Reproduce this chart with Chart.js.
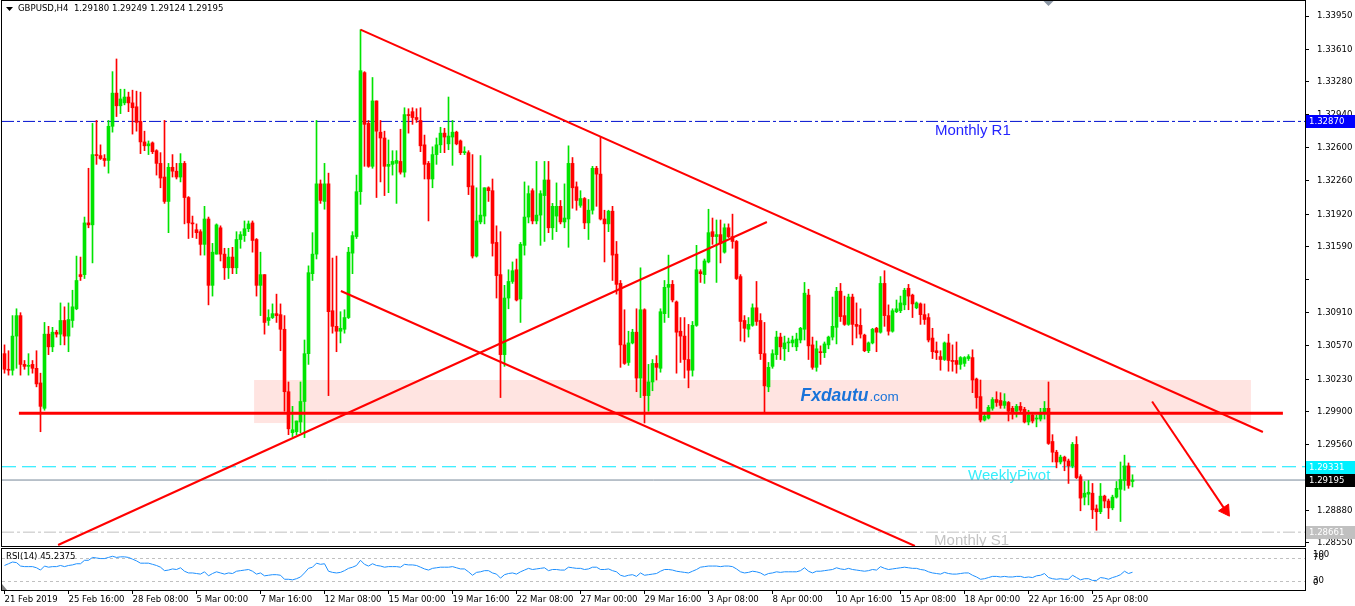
<!DOCTYPE html>
<html>
<head>
<meta charset="utf-8">
<title>GBPUSD H4</title>
<script src="https://cdn.jsdelivr.net/npm/chart.js@4.4.1/dist/chart.umd.min.js"></script>
<style>
  html, body { margin: 0; padding: 0; background: #fff; }
  #wrap { position: relative; width: 1355px; height: 606px; overflow: hidden; background: #fff; }
  #priceChart { position: absolute; left: 0; top: 0; }
  #rsiChart { position: absolute; left: 0; top: 547px; }
</style>
</head>
<body>
<div id="wrap">
  <canvas id="priceChart" width="1355" height="548"></canvas>
  <canvas id="rsiChart" width="1355" height="59"></canvas>
</div>
<script>
// ---- GBPUSD H4 candles, one entry per bar (21 Feb 2019 00:00 onwards) ----
const opens = [
  1.3049,1.3033,1.3032,1.3067,1.3088,1.3038,1.3036,1.3038,1.3034,1.3019,
  1.2993,1.3069,1.3056,1.3071,1.3069,1.3083,1.3067,1.3083,1.3095,1.3130,
  1.3130,1.3183,1.3181,1.3253,1.3252,1.3249,1.3247,1.3282,1.3316,1.3303,
  1.3306,1.3312,1.3306,1.3302,1.3287,1.3266,1.3262,1.3265,1.3257,1.3244,
  1.3230,1.3205,1.3240,1.3236,1.3230,1.3244,1.3209,1.3183,1.3176,1.3174,
  1.3161,1.3187,1.3119,1.3151,1.3178,1.3151,1.3137,1.3148,1.3137,1.3166,
  1.3170,1.3177,1.3183,1.3166,1.3119,1.3130,1.3083,1.3086,1.3090,1.3089,
  1.3074,1.3010,1.2968,1.2969,1.2979,1.3000,1.3049,1.3131,1.3151,1.3223,
  1.3205,1.3223,1.3093,1.3077,1.3072,1.3074,1.3086,1.3152,1.3169,1.3215,
  1.3337,1.3285,1.3241,1.3308,1.3276,1.3270,1.3241,1.3243,1.3244,1.3246,
  1.3235,1.3294,1.3297,1.3291,1.3288,1.3263,1.3244,1.3228,1.3253,1.3263,
  1.3275,1.3264,1.3271,1.3276,1.3267,1.3255,1.3255,1.3221,1.3149,1.3184,
  1.3190,1.3219,1.3216,1.3163,1.3130,1.3048,1.3106,1.3123,1.3135,1.3105,
  1.3160,1.3189,1.3216,1.3185,1.3191,1.3211,1.3227,1.3178,1.3190,1.3200,
  1.3184,1.3187,1.3244,1.3220,1.3201,1.3208,1.3183,1.3196,1.3239,1.3233,
  1.3187,1.3182,1.3195,1.3151,1.3121,1.3058,1.3040,1.3060,1.3071,1.3024,
  1.3094,1.3006,1.3020,1.3039,1.3034,1.3090,1.3117,1.3120,1.3102,1.3072,
  1.3067,1.3043,1.3032,1.3078,1.3133,1.3130,1.3143,1.3174,1.3169,1.3171,
  1.3153,1.3178,1.3169,1.3164,1.3128,1.3083,1.3074,1.3078,1.3096,1.3083,
  1.3049,1.3015,1.3036,1.3048,1.3066,1.3054,1.3060,1.3060,1.3056,1.3063,
  1.3074,1.3109,1.3058,1.3035,1.3051,1.3050,1.3058,1.3066,1.3076,1.3113,
  1.3088,1.3079,1.3107,1.3079,1.3078,1.3068,1.3052,1.3060,1.3075,1.3071,
  1.3121,1.3088,1.3072,1.3092,1.3093,1.3099,1.3116,1.3109,1.3096,1.3100,
  1.3089,1.3086,1.3065,1.3052,1.3046,1.3043,1.3060,1.3042,1.3042,1.3038,
  1.3039,1.3044,1.3045,1.3023,1.3005,1.2981,1.2983,1.2993,1.3002,1.3001,
  1.2996,1.2999,1.2993,1.2990,1.2995,1.2992,1.2979,1.2986,1.2982,1.2982,
  1.2988,1.2993,1.2959,1.2948,1.2938,1.2943,1.2939,1.2934,1.2956,1.2923,
  1.2902,1.2905,1.2906,1.2890,1.2887,1.2903,1.2898,1.2891,1.2902,1.2910,
  1.2919,1.2934,1.29180
];
const highs = [
  1.3058,1.3052,1.3088,1.3095,1.3091,1.3042,1.3049,1.3042,1.3052,1.3029,
  1.3081,1.3077,1.3076,1.3073,1.3101,1.3097,1.3101,1.3114,1.3149,1.3148,
  1.3189,1.3239,1.3285,1.3288,1.3263,1.3253,1.3288,1.3338,1.3351,1.3320,
  1.3320,1.3317,1.3319,1.3318,1.3317,1.3277,1.3267,1.3266,1.3258,1.3255,
  1.3288,1.3244,1.3253,1.3244,1.3254,1.3246,1.3210,1.3190,1.3182,1.3176,
  1.3200,1.3189,1.3162,1.3182,1.3180,1.3157,1.3157,1.3158,1.3174,1.3174,
  1.3185,1.3185,1.3185,1.3167,1.3153,1.3130,1.3094,1.3100,1.3110,1.3100,
  1.3088,1.3020,1.2995,1.2980,1.3020,1.3063,1.3139,1.3173,1.3288,1.3227,
  1.3244,1.3234,1.3147,1.3149,1.3092,1.3094,1.3158,1.3174,1.3232,1.3381,
  1.3338,1.3288,1.3332,1.3308,1.3288,1.3277,1.3268,1.3257,1.3257,1.3279,
  1.3301,1.3300,1.3301,1.3300,1.3301,1.3273,1.3246,1.3261,1.3270,1.3281,
  1.3280,1.3312,1.3288,1.3277,1.3268,1.3261,1.3257,1.3253,1.3219,1.3252,
  1.3219,1.3220,1.3228,1.3180,1.3174,1.3119,1.3135,1.3143,1.3146,1.3163,
  1.3225,1.3221,1.3218,1.3246,1.3216,1.3246,1.3246,1.3203,1.3224,1.3206,
  1.3223,1.3262,1.3250,1.3225,1.3216,1.3209,1.3207,1.3241,1.3241,1.3271,
  1.3196,1.3196,1.3200,1.3164,1.3124,1.3094,1.3072,1.3074,1.3095,1.3137,
  1.3095,1.3038,1.3043,1.3047,1.3095,1.3124,1.3150,1.3124,1.3103,1.3086,
  1.3086,1.3079,1.3082,1.3160,1.3135,1.3146,1.3197,1.3188,1.3186,1.3186,
  1.3182,1.3182,1.3192,1.3165,1.3130,1.3088,1.3086,1.3100,1.3123,1.3090,
  1.3081,1.3040,1.3053,1.3072,1.3070,1.3067,1.3065,1.3067,1.3070,1.3076,
  1.3122,1.3115,1.3066,1.3062,1.3057,1.3061,1.3067,1.3107,1.3117,1.3121,
  1.3108,1.3110,1.3110,1.3101,1.3095,1.3069,1.3061,1.3075,1.3076,1.3128,
  1.3134,1.3099,1.3095,1.3104,1.3108,1.3116,1.3120,1.3110,1.3102,1.3101,
  1.3100,1.3090,1.3075,1.3061,1.3052,1.3061,1.3069,1.3058,1.3061,1.3046,
  1.3046,1.3048,1.3053,1.3024,1.3022,1.2988,1.2996,1.3004,1.3010,1.3009,
  1.3008,1.3000,1.2995,1.2997,1.2999,1.2994,1.2991,1.2987,1.2986,1.2993,
  1.3000,1.3020,1.2966,1.2950,1.2945,1.2944,1.2941,1.2958,1.2964,1.2925,
  1.2918,1.2919,1.2916,1.2894,1.2916,1.2904,1.2900,1.2904,1.2918,1.2938,
  1.2945,1.2937,1.29249
];
const lows = [
  1.3029,1.3027,1.3027,1.3034,1.3027,1.3033,1.3027,1.3029,1.3015,1.2969,
  1.2991,1.3048,1.3051,1.3066,1.3058,1.3058,1.3051,1.3076,1.3094,1.3124,
  1.3126,1.3178,1.3142,1.3243,1.3248,1.3241,1.3234,1.3276,1.3292,1.3295,
  1.3304,1.3297,1.3274,1.3277,1.3254,1.3257,1.3253,1.3254,1.3232,1.3219,
  1.3203,1.3173,1.3230,1.3228,1.3225,1.3182,1.3167,1.3168,1.3167,1.3150,
  1.3150,1.3099,1.3108,1.3151,1.3144,1.3125,1.3126,1.3131,1.3131,1.3157,
  1.3164,1.3174,1.3153,1.3108,1.3088,1.3069,1.3078,1.3085,1.3081,1.3052,
  1.2990,1.2966,1.2964,1.2966,1.2968,1.2963,1.3038,1.3124,1.3146,1.3203,
  1.3197,1.3006,1.3070,1.3051,1.3060,1.3070,1.3085,1.3131,1.3167,1.3202,
  1.3241,1.3240,1.3239,1.3209,1.3225,1.3211,1.3214,1.3232,1.3203,1.3233,
  1.3230,1.3275,1.3284,1.3286,1.3256,1.3228,1.3185,1.3219,1.3243,1.3255,
  1.3255,1.3258,1.3242,1.3263,1.3253,1.3253,1.3212,1.3147,1.3148,1.3182,
  1.3182,1.3205,1.3149,1.3106,1.3004,1.3036,1.3095,1.3121,1.3103,1.3081,
  1.3150,1.3183,1.3182,1.3182,1.3160,1.3164,1.3173,1.3166,1.3174,1.3182,
  1.3178,1.3158,1.3198,1.3196,1.3199,1.3177,1.3166,1.3192,1.3200,1.3186,
  1.3143,1.3174,1.3124,1.3110,1.3035,1.3038,1.3037,1.3059,1.3010,1.3004,
  1.2978,1.2990,1.3011,1.3022,1.3030,1.3081,1.3086,1.3102,1.3029,1.3040,
  1.3024,1.3014,1.3026,1.3077,1.3122,1.3121,1.3142,1.3161,1.3122,1.3142,
  1.3152,1.3168,1.3157,1.3125,1.3062,1.3061,1.3066,1.3077,1.3078,1.3043,
  1.2988,1.3010,1.3034,1.3043,1.3043,1.3042,1.3051,1.3056,1.3052,1.3060,
  1.3063,1.3043,1.3033,1.3031,1.3038,1.3045,1.3054,1.3063,1.3059,1.3082,
  1.3078,1.3078,1.3058,1.3065,1.3065,1.3051,1.3050,1.3059,1.3051,1.3070,
  1.3077,1.3068,1.3071,1.3091,1.3091,1.3094,1.3094,1.3086,1.3095,1.3079,
  1.3079,1.3061,1.3044,1.3043,1.3032,1.3042,1.3031,1.3031,1.3029,1.3033,
  1.3036,1.3042,1.3009,1.2993,1.2979,1.2980,1.2982,1.2991,1.2995,1.2993,
  1.2993,1.2980,1.2982,1.2984,1.2988,1.2978,1.2976,1.2978,1.2974,1.2980,
  1.2982,1.2956,1.2938,1.2932,1.2936,1.2929,1.2916,1.2932,1.2921,1.2888,
  1.2894,1.2894,1.2880,1.2868,1.2885,1.2891,1.2880,1.2889,1.2901,1.2877,
  1.2909,1.2911,1.29124
];
const closes = [
  1.3033,1.3032,1.3067,1.3088,1.3038,1.3036,1.3037,1.3034,1.3018,1.2995,
  1.3069,1.3056,1.3071,1.3069,1.3083,1.3067,1.3084,1.3097,1.3124,1.3128,
  1.3183,1.3181,1.3253,1.3252,1.3249,1.3247,1.3282,1.3316,1.3303,1.3310,
  1.3312,1.3306,1.3301,1.3286,1.3266,1.3262,1.3264,1.3256,1.3244,1.3229,
  1.3205,1.3240,1.3236,1.3230,1.3244,1.3209,1.3183,1.3182,1.3173,1.3161,
  1.3187,1.3119,1.3153,1.3181,1.3151,1.3137,1.3148,1.3137,1.3166,1.3171,
  1.3177,1.3182,1.3165,1.3119,1.3130,1.3081,1.3086,1.3090,1.3088,1.3074,
  1.3010,1.2972,1.2971,1.2980,1.3000,1.3049,1.3132,1.3151,1.3223,1.3206,
  1.3223,1.3092,1.3077,1.3072,1.3075,1.3086,1.3153,1.3170,1.3215,1.3339,
  1.3284,1.3241,1.3308,1.3277,1.3270,1.3241,1.3243,1.3246,1.3247,1.3235,
  1.3294,1.3293,1.3291,1.3289,1.3262,1.3243,1.3228,1.3253,1.3263,1.3275,
  1.3271,1.3272,1.3276,1.3264,1.3255,1.3256,1.3220,1.3149,1.3185,1.3191,
  1.3219,1.3216,1.3162,1.3129,1.3048,1.3106,1.3123,1.3134,1.3104,1.3161,
  1.3189,1.3213,1.3185,1.3191,1.3213,1.3227,1.3178,1.3200,1.3200,1.3184,
  1.3188,1.3244,1.3219,1.3206,1.3208,1.3183,1.3196,1.3239,1.3233,1.3187,
  1.3182,1.3195,1.3150,1.3120,1.3058,1.3039,1.3060,1.3071,1.3024,1.3094,
  1.3006,1.3020,1.3039,1.3035,1.3092,1.3117,1.3120,1.3104,1.3071,1.3067,
  1.3043,1.3032,1.3078,1.3135,1.3131,1.3144,1.3173,1.3169,1.3171,1.3162,
  1.3178,1.3169,1.3164,1.3126,1.3082,1.3075,1.3079,1.3096,1.3082,1.3049,
  1.3016,1.3035,1.3049,1.3066,1.3056,1.3060,1.3061,1.3063,1.3064,1.3075,
  1.3111,1.3057,1.3035,1.3054,1.3050,1.3059,1.3066,1.3077,1.3113,1.3087,
  1.3079,1.3107,1.3079,1.3077,1.3069,1.3052,1.3060,1.3074,1.3071,1.3121,
  1.3088,1.3072,1.3093,1.3095,1.3101,1.3114,1.3108,1.3100,1.3101,1.3089,
  1.3084,1.3063,1.3051,1.3050,1.3043,1.3060,1.3042,1.3041,1.3038,1.3045,
  1.3045,1.3046,1.3022,1.3004,1.2981,1.2985,1.2994,1.3002,1.2999,1.2996,
  1.3000,1.2990,1.2988,1.2995,1.2991,1.2979,1.2986,1.2980,1.2983,1.2988,
  1.2993,1.2957,1.2948,1.2938,1.2943,1.2939,1.2934,1.2956,1.2922,1.2901,
  1.2906,1.2907,1.2889,1.2887,1.2903,1.2898,1.2891,1.2902,1.2911,1.2920,
  1.2934,1.2914,1.29195
];
// RSI(14) per bar
const rsi = [
  57,60,63,62,56,55,55,55,53,49,
  56,54,55,55,57,55,57,58,60,60,
  66,66,71,70,69,69,71,73,71,72,
  72,71,68,65,61,61,61,59,57,54,
  48,49,51,50,53,47,44,44,43,42,
  46,39,43,46,44,42,44,43,47,48,
  49,50,47,42,44,39,40,41,41,40,
  33,33,32,34,37,44,52,54,61,59,
  60,47,45,44,45,48,52,54,57,66,
  59,56,60,57,56,54,55,55,55,54,
  59,58,58,57,54,51,49,52,53,54,
  54,54,55,53,51,51,46,40,45,46,
  48,48,44,42,35,41,43,44,42,46,
  49,52,50,51,52,53,48,50,50,49,
  49,54,53,52,52,50,51,54,54,50,
  50,51,48,46,40,38,40,41,38,44,
  40,41,42,43,47,50,50,49,47,46,
  45,44,47,50,54,55,56,56,56,55,
  56,56,55,51,46,44,45,47,46,44,
  40,43,44,46,45,46,46,46,46,48,
  53,47,44,47,47,48,49,50,53,51,
  50,52,50,49,48,47,48,50,49,55,
  52,50,51,52,53,54,53,52,52,50,
  49,46,44,43,42,45,43,42,42,43,
  44,44,40,37,33,34,36,38,38,37,
  38,37,37,38,38,36,37,36,39,40,
  43,36,34,33,34,33,33,40,36,32,
  34,34,31,31,36,35,33,36,38,41,
  47,43,45.2375
];
const rsiLevels = [30, 70];

// time axis labels (bar index where each label sits)
const timeTickIdx = [0, 16, 32, 48, 64, 80, 96, 112, 128, 144, 160, 176, 192, 208, 224, 240, 256, 272];
const timeLabels = ['21 Feb 2019', '25 Feb 16:00', '28 Feb 08:00', '5 Mar 00:00', '7 Mar 16:00',
  '12 Mar 08:00', '15 Mar 00:00', '19 Mar 16:00', '22 Mar 08:00', '27 Mar 00:00', '29 Mar 16:00',
  '3 Apr 08:00', '8 Apr 00:00', '10 Apr 16:00', '15 Apr 08:00', '18 Apr 00:00', '22 Apr 16:00', '25 Apr 08:00'];

// price axis
const priceTicks = [1.3395, 1.3361, 1.3328, 1.3294, 1.3260, 1.3226, 1.3192, 1.3159, 1.3125,
  1.3091, 1.3057, 1.3023, 1.2990, 1.2956, 1.2922, 1.2888, 1.2855];
const priceTickLabels = ['1.33950', '1.33610', '1.33280', '1.32940', '1.32600', '1.32260', '1.31920',
  '1.31590', '', '1.30910', '1.30570', '1.30230', '1.29900', '1.29560', '1.29220', '1.28880', '1.28550'];

// pivot levels
const monthlyR1 = 1.32870;
const weeklyPivot = 1.29331;
const bidPrice = 1.29195;
const monthlyS1 = 1.28661;

// drawn objects: [bar index, price]
const supportLine = [[3.6, 1.2988], [319.6, 1.2988]];
const upperTrend = [[89, 1.3381], [314.6, 1.29687]];
const risingTrend = [[13.4, 1.28529], [190.6, 1.31839]];
const lowerTrend = [[84.1, 1.31132], [227.6, 1.28519]];
const arrowPath = [[286.9, 1.3000], [305.25, 1.28884]];
const zoneBars = [62.4, 311.6];
const zonePrices = [1.29779, 1.30220];

// ---- styling / layout ----
const UP = '#00e400';
const DOWN = '#ff0000';
const FONT = "'DejaVu Sans Condensed', 'DejaVu Sans', sans-serif";
const ARIAL = "'Liberation Sans', Arial, sans-serif";
const X_MIN = -0.625, X_MAX = 325.125;
const Y_MIN = 1.28519, Y_MAX = 1.34104;
const RSI_MIN = 14.35, RSI_MAX = 85.65;

const idx = closes.map((_, i) => i);
const candleColors = idx.map(i => closes[i] >= opens[i] ? UP : DOWN);

function toPoints(pairs) {
  return pairs.map(p => ({ x: p[0], y: p[1] }));
}
function levelLine(level) {
  return [{ x: X_MIN, y: level }, { x: X_MAX, y: level }];
}
function lineSet(data, color, width, dash, order) {
  return {
    type: 'line', data: data, borderColor: color, borderWidth: width,
    borderDash: dash || [], pointRadius: 0, fill: false, tension: 0, order: order
  };
}
// keep the plot area exactly where the layout padding puts it
function noPadding(s) {
  s.paddingTop = 0;
  s.paddingBottom = 0;
  s.paddingLeft = 0;
  s.paddingRight = 0;
}

const captions = [
  { text: 'Monthly R1', price: monthlyR1, at: 232.6, color: '#2424ff' },
  { text: 'WeeklyPivot', price: weeklyPivot, at: 240.9, color: '#36eefc' },
  { text: 'Monthly S1', price: monthlyS1, at: 232.4, color: '#c3c3c3' }
];
const axisBoxes = [
  { price: monthlyR1, bg: '#0000ff', fg: '#ffffff' },
  { price: weeklyPivot, bg: '#00f0ff', fg: '#ffffff' },
  { price: bidPrice, bg: '#000000', fg: '#ffffff' },
  { price: monthlyS1, bg: '#c0c0c0', fg: '#ffffff' }
];

const priceOverlay = {
  id: 'priceOverlay',
  beforeDatasetsDraw(chart) {
    const { ctx, chartArea: a, scales: { x, y } } = chart;
    ctx.save();
    ctx.beginPath();
    ctx.rect(a.left, a.top, a.right - a.left, a.bottom - a.top);
    ctx.clip();

    // rectangle zone
    const zx0 = x.getPixelForValue(zoneBars[0]);
    const zx1 = x.getPixelForValue(zoneBars[1]);
    const zy0 = y.getPixelForValue(zonePrices[1]);
    const zy1 = y.getPixelForValue(zonePrices[0]);
    ctx.fillStyle = '#ffe4e1';
    ctx.fillRect(zx0, zy0, zx1 - zx0, zy1 - zy0);

    // watermark
    const wx = x.getPixelForValue(199);
    const wy = y.getPixelForValue(1.3001);
    ctx.textAlign = 'left';
    ctx.textBaseline = 'alphabetic';
    ctx.fillStyle = '#1a73d9';
    ctx.font = 'italic bold 17.5px ' + ARIAL;
    ctx.fillText('Fxdautu', wx, wy);
    const w = ctx.measureText('Fxdautu').width;
    ctx.font = '13.5px ' + ARIAL;
    ctx.fillText('.com', wx + w + 1, wy);

    // level captions
    ctx.font = '15px ' + ARIAL;
    ctx.textBaseline = 'top';
    captions.forEach(c => {
      ctx.fillStyle = c.color;
      ctx.fillText(c.text, x.getPixelForValue(c.at), y.getPixelForValue(c.price) + 1.5);
    });
    ctx.restore();
  },
  afterDraw(chart) {
    const { ctx, chartArea: a, scales: { x, y } } = chart;
    ctx.save();
    ctx.strokeStyle = '#000';
    ctx.lineWidth = 1;
    ctx.strokeRect(a.left - 0.5, a.top - 0.5, a.right - a.left + 1, a.bottom - a.top + 1);

    // price boxes on the axis
    ctx.font = '9.5px ' + FONT;
    ctx.textBaseline = 'middle';
    ctx.textAlign = 'left';
    axisBoxes.forEach(b => {
      const py = Math.round(y.getPixelForValue(b.price));
      ctx.fillStyle = b.bg;
      ctx.fillRect(a.right + 1, py - 6, chart.width - a.right - 1, 13);
      ctx.fillStyle = b.fg;
      ctx.fillText(b.price.toFixed(5), a.right + 4, py + 0.5);
    });

    // title
    const last = closes.length - 1;
    ctx.fillStyle = '#000';
    ctx.beginPath();
    ctx.moveTo(a.left + 4, a.top + 6);
    ctx.lineTo(a.left + 11, a.top + 6);
    ctx.lineTo(a.left + 7.5, a.top + 10);
    ctx.closePath();
    ctx.fill();
    ctx.fillText('GBPUSD,H4  ' + [opens[last], highs[last], lows[last], closes[last]]
      .map(v => v.toFixed(5)).join(' '), a.left + 16, a.top + 8);

    // chart shift marker
    const sx = x.getPixelForValue(261);
    ctx.fillStyle = '#8a96a4';
    ctx.beginPath();
    ctx.moveTo(sx - 5, a.top);
    ctx.lineTo(sx + 5, a.top);
    ctx.lineTo(sx, a.top + 5);
    ctx.closePath();
    ctx.fill();
    ctx.restore();
  }
};

new Chart(document.getElementById('priceChart'), {
  type: 'bar',
  data: {
    datasets: [
      lineSet(levelLine(monthlyR1), '#0010d0', 1, [12, 3, 3, 3], 8),
      lineSet(levelLine(weeklyPivot), '#00e8ff', 1, [14, 6], 8),
      lineSet(levelLine(bidPrice), '#778899', 1, [], 8),
      lineSet(levelLine(monthlyS1), '#c0c0c0', 1, [12, 3, 3, 3], 8),
      {
        label: 'wicks',
        data: idx.map(i => ({ x: i, y: [lows[i], highs[i]] })),
        backgroundColor: candleColors,
        barThickness: 1, grouped: false, order: 6
      },
      {
        label: 'bodies',
        data: idx.map(i => ({ x: i, y: [Math.min(opens[i], closes[i]), Math.max(opens[i], closes[i])] })),
        backgroundColor: candleColors,
        barThickness: 3, minBarLength: 1, grouped: false, order: 5
      },
      lineSet(toPoints(supportLine), '#ff0000', 3, [], 1),
      lineSet(toPoints(upperTrend), '#ff0000', 2, [], 1),
      lineSet(toPoints(risingTrend), '#ff0000', 2, [], 1),
      lineSet(toPoints(lowerTrend), '#ff0000', 2, [], 1),
      Object.assign(lineSet(toPoints(arrowPath), '#ff0000', 2, [], 1), {
        pointRadius: [0, 7], pointStyle: 'triangle', pointRotation: [0, 146],
        pointBackgroundColor: '#ff0000', pointBorderColor: '#ff0000', pointBorderWidth: 1
      })
    ]
  },
  options: {
    responsive: false,
    animation: false,
    events: [],
    layout: { padding: { left: 2, top: 1, right: 0, bottom: 2 }, autoPadding: false },
    plugins: { legend: { display: false }, tooltip: { enabled: false } },
    scales: {
      x: { type: 'linear', min: X_MIN, max: X_MAX, offset: false, display: false, afterFit: noPadding },
      y: {
        type: 'linear', position: 'right', min: Y_MIN, max: Y_MAX,
        afterBuildTicks: s => { s.ticks = priceTicks.map(v => ({ value: v })); },
        afterFit: s => { s.width = 50; noPadding(s); },
        ticks: {
          callback: (v, i) => priceTickLabels[i],
          color: '#000', padding: 8, autoSkip: false,
          font: { family: FONT, size: 9.5 }
        },
        grid: { drawOnChartArea: false, drawTicks: true, tickLength: 4, color: '#000' },
        border: { display: false }
      }
    }
  },
  plugins: [priceOverlay]
});

const rsiOverlay = {
  id: 'rsiOverlay',
  beforeDatasetsDraw(chart) {
    const { ctx, chartArea: a, scales: { y } } = chart;
    ctx.save();
    ctx.strokeStyle = '#c0c0c0';
    ctx.lineWidth = 1;
    ctx.setLineDash([3, 3]);
    rsiLevels.forEach(v => {
      const py = Math.round(y.getPixelForValue(v)) + 0.5;
      ctx.beginPath();
      ctx.moveTo(a.left, py);
      ctx.lineTo(a.right, py);
      ctx.stroke();
    });
    ctx.restore();
  },
  afterDraw(chart) {
    const { ctx, chartArea: a } = chart;
    ctx.save();
    ctx.strokeStyle = '#000';
    ctx.lineWidth = 1;
    ctx.strokeRect(a.left - 0.5, a.top - 0.5, a.right - a.left + 1, a.bottom - a.top + 1);
    ctx.font = '9.5px ' + FONT;
    ctx.fillStyle = '#000';
    ctx.textBaseline = 'middle';
    ctx.textAlign = 'left';
    ctx.fillText('RSI(14) ' + rsi[rsi.length - 1].toFixed(4), a.left + 4, a.top + 8);
    ctx.fillText('100', a.right + 8, a.top + 6);
    ctx.fillText('0', a.right + 8, a.bottom - 7);
    // indicator window marker
    ctx.fillStyle = '#808080';
    ctx.beginPath();
    ctx.moveTo(a.left, a.bottom - 6);
    ctx.lineTo(a.left + 5, a.bottom);
    ctx.lineTo(a.left, a.bottom);
    ctx.closePath();
    ctx.fill();
    ctx.restore();
  }
};

new Chart(document.getElementById('rsiChart'), {
  type: 'line',
  data: {
    datasets: [{
      data: idx.map(i => ({ x: i, y: rsi[i] })),
      borderColor: '#1e90ff', borderWidth: 1, pointRadius: 0, tension: 0, fill: false
    }]
  },
  options: {
    responsive: false,
    animation: false,
    events: [],
    layout: { padding: { left: 2, top: 2, right: 0, bottom: 0 }, autoPadding: false },
    plugins: { legend: { display: false }, tooltip: { enabled: false } },
    scales: {
      x: {
        type: 'linear', position: 'bottom', min: X_MIN, max: X_MAX, offset: false,
        afterBuildTicks: s => { s.ticks = timeTickIdx.map(v => ({ value: v })); },
        afterFit: s => { s.height = 16; noPadding(s); },
        ticks: {
          callback: (v, i) => timeLabels[i],
          autoSkip: false, maxRotation: 0, minRotation: 0, align: 'start', padding: 0,
          color: '#000', font: { family: FONT, size: 9.5 }
        },
        grid: { drawOnChartArea: false, drawTicks: true, tickLength: 4, color: '#000' },
        border: { display: false }
      },
      y: {
        type: 'linear', position: 'right', min: RSI_MIN, max: RSI_MAX,
        afterBuildTicks: s => { s.ticks = rsiLevels.map(v => ({ value: v })); },
        afterFit: s => { s.width = 50; noPadding(s); },
        ticks: {
          callback: v => String(v), padding: 8, color: '#000',
          font: { family: FONT, size: 9.5 }
        },
        grid: { drawOnChartArea: false, drawTicks: false },
        border: { display: false }
      }
    }
  },
  plugins: [rsiOverlay]
});
</script>
</body>
</html>
